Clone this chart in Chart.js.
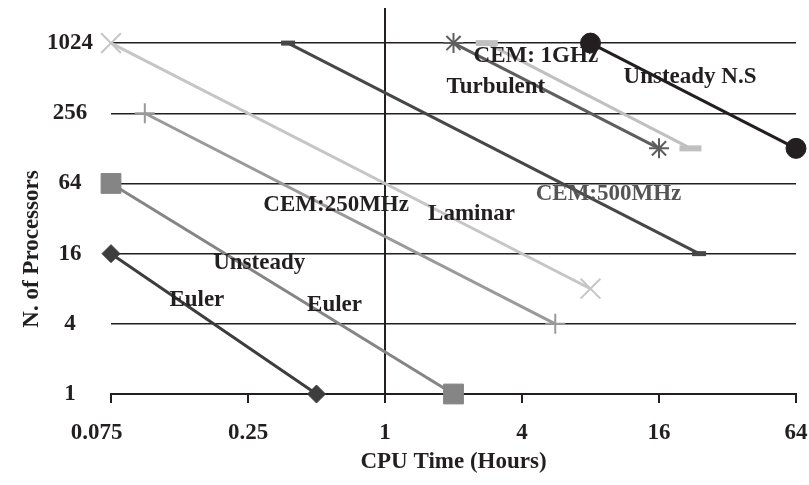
<!DOCTYPE html>
<html>
<head>
<meta charset="utf-8">
<script src="https://cdn.jsdelivr.net/npm/chart.js@4.4.1/dist/chart.umd.min.js"></script>
<style>
  html, body { margin: 0; padding: 0; background: #fff; }
  #wrap { width: 809px; height: 485px; }
</style>
</head>
<body>
<div id="wrap"><canvas id="cpuChart" width="809" height="485"></canvas></div>
<script>
// axis ticks (log base 4 axes)
const xTickValues = [0.0625, 0.25, 1, 4, 16, 64];
const xTickLabels = ['0.075', '0.25', '1', '4', '16', '64'];
const yTickValues = [1, 4, 16, 64, 256, 1024];
const yTickLabels = ['1', '4', '16', '64', '256', '1024'];

// series: CPU time (hours) vs number of processors
const eulerTime = [0.0625, 0.5];
const eulerProcs = [16, 1];
const unsteadyEulerTime = [0.0625, 2];
const unsteadyEulerProcs = [64, 1];
const cem250Time = [0.088, 5.6];
const cem250Procs = [256, 4];
const laminarTime = [0.0625, 8];
const laminarProcs = [1024, 8];
const cem500Time = [0.375, 24];
const cem500Procs = [1024, 16];
const turbulentTime = [2, 16];
const turbulentProcs = [1024, 128];
const cem1gTime = [2.8, 22];
const cem1gProcs = [1024, 128];
const unsteadyNSTime = [8, 64];
const unsteadyNSProcs = [1024, 128];

// text labels placed in data coordinates
const noteTexts = ['CEM: 1GHz', 'Turbulent', 'Unsteady N.S', 'CEM:500MHz', 'CEM:250MHz', 'Laminar', 'Unsteady', 'Euler', 'Euler'];
const noteTime = [4.6, 3.07, 21.9, 9.6, 0.61, 2.4, 0.28, 0.149, 0.6];
const noteProcs = [790, 426, 523, 52, 42, 34.7, 13.4, 6.43, 5.83];
const noteColors = ['#231f20', '#231f20', '#231f20', '#555555', '#231f20', '#231f20', '#231f20', '#231f20', '#231f20'];

const FONT = '"Liberation Serif", "Times New Roman", serif';
const INK = '#231f20';

function pts(xs, ys) {
    return xs.map((x, i) => ({ x: x, y: ys[i] }));
}

function series(label, xs, ys, color, style, radius, pointWidth) {
    return {
        label: label,
        data: pts(xs, ys),
        showLine: true,
        borderColor: color,
        backgroundColor: color,
        borderWidth: 3,
        pointStyle: style,
        pointRadius: radius,
        pointBorderWidth: pointWidth,
        pointBorderColor: color,
        pointBackgroundColor: color,
        clip: false
    };
}

const datasets = [
    series('Euler', eulerTime, eulerProcs, '#3d3d3d', 'rectRot', 9, 1),
    series('Unsteady Euler', unsteadyEulerTime, unsteadyEulerProcs, '#858585', 'rect', 14, 1),
    series('CEM:250MHz', cem250Time, cem250Procs, '#9a9a9a', 'cross', 10, 2),
    series('Laminar', laminarTime, laminarProcs, '#c6c6c6', 'crossRot', 14, 2),
    series('CEM:500MHz', cem500Time, cem500Procs, '#474747', 'line', 7, 5),
    series('Turbulent', turbulentTime, turbulentProcs, '#5e5e5e', 'star', 10, 2),
    series('CEM: 1GHz', cem1gTime, cem1gProcs, '#c0c0c0', 'line', 11, 6),
    series('Unsteady N.S', unsteadyNSTime, unsteadyNSProcs, INK, 'circle', 10, 1)
];

const notesPlugin = {
    id: 'notes',
    afterDatasetsDraw(chart) {
        const ctx = chart.ctx;
        const xs = chart.scales.x;
        const ys = chart.scales.y;
        ctx.save();
        ctx.font = 'bold 23px ' + FONT;
        ctx.textAlign = 'center';
        ctx.textBaseline = 'middle';
        noteTexts.forEach((t, i) => {
            ctx.fillStyle = noteColors[i];
            ctx.fillText(t, xs.getPixelForValue(noteTime[i]), ys.getPixelForValue(noteProcs[i]));
        });
        // y axis title
        ctx.translate(32, 249);
        ctx.rotate(-Math.PI / 2);
        ctx.fillStyle = INK;
        ctx.fillText('N. of Processors', 0, 0);
        ctx.restore();
    }
};

new Chart(document.getElementById('cpuChart'), {
    type: 'scatter',
    data: { datasets: datasets },
    plugins: [notesPlugin],
    options: {
        responsive: false,
        animation: false,
        layout: { autoPadding: false, padding: { left: 47, right: 13, top: 8, bottom: 9 } },
        plugins: {
            legend: { display: false },
            tooltip: { enabled: false }
        },
        scales: {
            x: {
                type: 'logarithmic',
                min: 0.0625,
                max: 64,
                afterBuildTicks: scale => { scale.ticks = xTickValues.map(v => ({ value: v })); },
                afterFit: scale => { scale.paddingLeft = 0; scale.paddingRight = 0; scale.height = 82; },
                grid: {
                    color: c => (c.tick && c.tick.value === 1) ? INK : 'rgba(0,0,0,0)',
                    lineWidth: 2,
                    tickColor: INK,
                    tickLength: 9,
                    drawOnChartArea: true
                },
                border: { display: true, color: INK, width: 2 },
                ticks: {
                    autoSkip: false,
                    maxRotation: 0,
                    padding: 16,
                    color: INK,
                    font: { family: FONT, size: 23, weight: 'bold' },
                    // first label sits a little left of its tick, as in the original
                    callback: v => {
                        const i = xTickValues.indexOf(v);
                        return i === 0 ? xTickLabels[i] + '     ' : xTickLabels[i];
                    }
                },
                title: {
                    display: true,
                    text: 'CPU Time (Hours)',
                    color: INK,
                    padding: { top: 2, bottom: 0 },
                    font: { family: FONT, size: 23, weight: 'bold' }
                }
            },
            y: {
                type: 'logarithmic',
                min: 1,
                max: 2048,
                afterBuildTicks: scale => { scale.ticks = yTickValues.map(v => ({ value: v })); },
                afterFit: scale => { scale.paddingTop = 0; scale.paddingBottom = 0; scale.width = 64; },
                grid: {
                    color: INK,
                    lineWidth: 1.5,
                    drawTicks: false
                },
                border: { display: false },
                ticks: {
                    autoSkip: false,
                    padding: 18,
                    crossAlign: 'center',
                    color: INK,
                    font: { family: FONT, size: 23, weight: 'bold' },
                    callback: v => yTickLabels[yTickValues.indexOf(v)]
                }
            }
        }
    }
});
</script>
</body>
</html>
